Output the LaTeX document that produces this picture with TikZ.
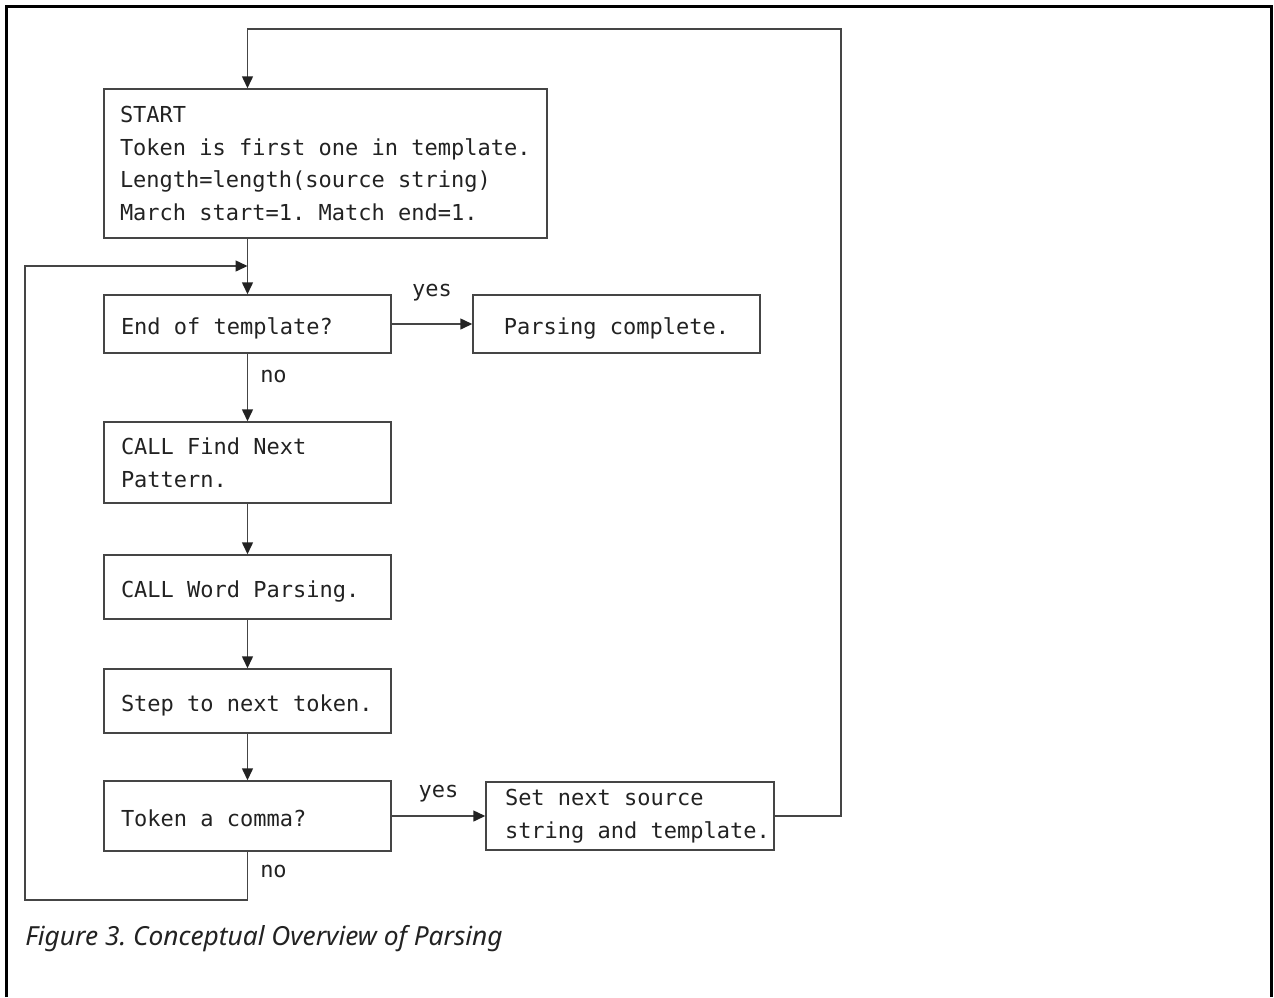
\documentclass[tikz,border=0pt]{standalone}
\usepackage{fontspec}
\usepackage{tikz}
\usetikzlibrary{arrows.meta,positioning,calc}
\newfontfamily\boxfont{DejaVu Sans Mono}
\newfontfamily\capfont{Noto Sans}
\definecolor{ink}{HTML}{222222}
\definecolor{rulegray}{HTML}{454545}
\setlength{\parindent}{0pt}
\frenchspacing
\newcommand{\boxtext}[2][126.5pt]{\parbox[b]{#1}{\raggedright #2}}

\begin{document}
\begin{tikzpicture}[font=\boxfont\fontsize{11}{16.35}\selectfont,text=ink,
  procbox/.style={draw=rulegray,line width=0.75pt,inner xsep=8.5pt},
  oneline/.style={procbox,text height=10.5pt,text depth=0.5pt},
  flow/.style={draw=rulegray,line width=0.75pt,
    -{Triangle[length=6pt,width=5.5pt,color=ink]}},
  tag/.style={inner sep=0pt}]
  \begin{scope}[x=0.5pt,y=-0.5pt]
    \useasboundingbox (0,0) rectangle (1274,997);
    \draw[line width=1.5pt] (6,997)--(6,6)--(1271,6)--(1271,997);

    \node[procbox,inner xsep=8pt,minimum height=74.5pt] (start)
      at (325.5,163.5) {\boxtext[205.5pt]{START\\Token is first one in
      template.\\Length=length(source string)\\March start=1. Match end=1.}};
    \node[oneline,minimum height=29pt] (endt) at (247.5,324)
      {\boxtext{End of template?}};
    \node[draw=rulegray,line width=0.75pt,minimum width=143.5pt,
      minimum height=29pt,text height=10.5pt,text depth=0.5pt] (done)
      at (616.5,324) {Parsing complete.};
    \node[procbox,minimum height=40.5pt] (findnext) at (247.5,462.5)
      {\boxtext{CALL Find Next\\Pattern.}};
    \node[oneline,minimum height=32pt] (wordparse) at (247.5,587)
      {\boxtext{CALL Word Parsing.}};
    \node[oneline,minimum height=32pt] (steptok) at (247.5,701)
      {\boxtext{Step to next token.}};
    \node[oneline,minimum height=35pt] (comma) at (247.5,816)
      {\boxtext{Token a comma?}};
    \node[procbox,minimum height=34pt,inner xsep=9.5pt] (setnext)
      at (630,816)
      {\boxtext[125pt]{Set next source\\\mbox{string and template.}}};

    \coordinate (join) at (247.5,266);
    \coordinate (upturn) at (841,29);
    \coordinate (lowturn) at (247.5,900);
    \coordinate (leftturn) at (25,900);

    \draw[flow] (start.south -| endt.north) -- (endt.north);
    \draw[flow] (endt) -- (done)
      node[tag,midway,above=11pt] (yesdone) {yes};
    \draw[flow] (endt) -- (findnext)
      node[tag,pos=0.33,right=6pt] (nofind) {no};
    \foreach \a/\b in {findnext/wordparse,wordparse/steptok,steptok/comma}{
      \draw[flow] (\a) -- (\b);
    }
    \draw[flow] (comma) -- (setnext)
      node[tag,midway,above=6.5pt] (yesset) {yes};
    \draw[flow] (comma.south) -- (lowturn)
      node[tag,pos=0.4,right=6pt] (noloop) {no}
      -- (leftturn) -- (leftturn |- join) -- (join);
    \draw[flow] (setnext.east) -- (setnext.east -| upturn) -- (upturn)
      -- (upturn -| endt.north) -- (start.north -| endt.north);

    \node[anchor=base west,inner sep=0pt,
      font=\capfont\itshape\fontsize{13.15}{15}\selectfont] (caption)
      at (25,945) {Figure 3. Conceptual Overview of Parsing};
  \end{scope}
\end{tikzpicture}
\end{document}
